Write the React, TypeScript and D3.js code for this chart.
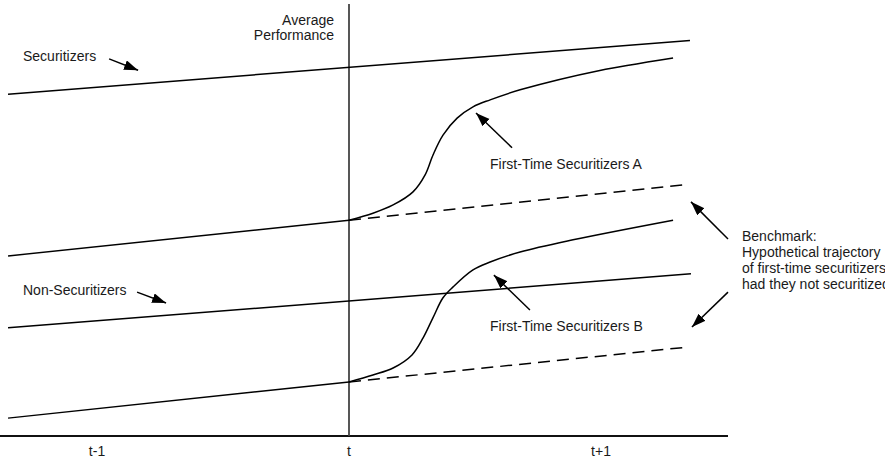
import React from 'react';
import * as d3 from 'd3';

// Time positions (t = 0) and average performance (0–100 index)
const ticks = [
  { value: -1, label: 't-1' },
  { value: 0, label: 't' },
  { value: 1, label: 't+1' },
];

const securitizers: [number, number][] = [[-1.353, 78.4], [1.353, 90.7]];
const nonSecuritizers: [number, number][] = [[-1.353, 24.8], [1.357, 37.2]];

const firstTimeAPre: [number, number][] = [[-1.353, 41.3], [0, 49.5]];
const firstTimeAHypo: [number, number][] = [[0, 49.5], [1.345, 57.7]];
const firstTimeAPost: [number, number][] = [
  [0, 49.5], [0.095, 51.1], [0.175, 53.0], [0.254, 56.0], [0.302, 59.9],
  [0.333, 64.4], [0.373, 69.0], [0.429, 72.9], [0.492, 75.5], [0.56, 77.1],
  [0.679, 79.4], [1.0, 83.9], [1.286, 86.7],
];

const firstTimeBPre: [number, number][] = [[-1.353, 4.1], [0, 12.4]];
const firstTimeBHypo: [number, number][] = [[0, 12.4], [1.345, 20.4]];
const firstTimeBPost: [number, number][] = [
  [0, 12.4], [0.095, 14.0], [0.175, 15.6], [0.25, 18.6], [0.294, 22.5],
  [0.333, 27.1], [0.373, 31.7], [0.413, 34.2], [0.492, 38.1], [0.56, 39.9],
  [0.679, 42.2], [0.889, 45.0], [1.286, 49.5],
];

// Annotation arrows: [from, to]
const arrows: [[number, number], [number, number]][] = [
  [[-0.952, 86.5], [-0.837, 83.9]],
  [[-0.841, 33.0], [-0.726, 30.5]],
  [[0.647, 66.1], [0.504, 74.1]],
  [[0.718, 28.9], [0.575, 36.9]],
  [[1.504, 45.2], [1.357, 53.7]],
  [[1.504, 33.0], [1.361, 25.0]],
];

const benchmarkLines = [
  'Benchmark:',
  'Hypothetical trajectory',
  'of first-time securitizers',
  'had they not securitized',
];

const width = 885;
const height = 468;

const App: React.FC = () => {
  const x = d3.scaleLinear().domain([-1, 1]).range([97, 601]);
  const y = d3.scaleLinear().domain([0, 100]).range([436, 0]);

  const straight = d3.line<[number, number]>()
    .x((d) => x(d[0]))
    .y((d) => y(d[1]));

  const smooth = d3.line<[number, number]>()
    .x((d) => x(d[0]))
    .y((d) => y(d[1]))
    .curve(d3.curveCatmullRom.alpha(0.5));

  const font = { fontFamily: 'Liberation Sans, Arial, sans-serif', fontSize: 14, fill: '#1a1a1a' };

  return (
    <svg
      width={width}
      height={height}
      style={{ position: 'absolute', left: 0, top: 0, background: '#fff' }}
    >
      <defs>
        <marker
          id="head"
          markerUnits="userSpaceOnUse"
          markerWidth={15}
          markerHeight={11}
          refX={14}
          refY={5}
          orient="auto"
        >
          <path d="M0,0 L14,5 L0,10 Z" fill="#000" />
        </marker>
      </defs>

      {/* axes */}
      <line x1={0} x2={728} y1={y(0)} y2={y(0)} stroke="#111" strokeWidth={2} />
      <line x1={x(0)} x2={x(0)} y1={4} y2={y(0)} stroke="#444" strokeWidth={1.8} />

      {ticks.map((t) => (
        <text key={t.label} x={x(t.value)} y={456} textAnchor="middle" {...font}>
          {t.label}
        </text>
      ))}

      <text x={334} y={25} textAnchor="end" {...font}>Average</text>
      <text x={334} y={40} textAnchor="end" {...font}>Performance</text>

      {/* trajectories */}
      <g fill="none" stroke="#000" strokeWidth={1.5}>
        <path d={straight(securitizers) || ''} />
        <path d={straight(nonSecuritizers) || ''} />
        <path d={straight(firstTimeAPre) || ''} />
        <path d={straight(firstTimeBPre) || ''} />
        <path d={smooth(firstTimeAPost) || ''} />
        <path d={smooth(firstTimeBPost) || ''} />
        <path d={straight(firstTimeAHypo) || ''} strokeDasharray="12,7" />
        <path d={straight(firstTimeBHypo) || ''} strokeDasharray="12,7" />
      </g>

      {/* arrows */}
      <g stroke="#000" strokeWidth={1.5}>
        {arrows.map(([from, to], i) => (
          <line
            key={i}
            x1={x(from[0])}
            y1={y(from[1])}
            x2={x(to[0])}
            y2={y(to[1])}
            markerEnd="url(#head)"
          />
        ))}
      </g>

      {/* labels */}
      <text x={23} y={61} {...font}>Securitizers</text>
      <text x={23} y={295} {...font}>Non-Securitizers</text>
      <text x={490} y={169} {...font}>First-Time Securitizers A</text>
      <text x={490} y={331} {...font}>First-Time Securitizers B</text>
      {benchmarkLines.map((line, i) => (
        <text key={line} x={742} y={240.5 + i * 16} {...font}>{line}</text>
      ))}
    </svg>
  );
};

export default App;
